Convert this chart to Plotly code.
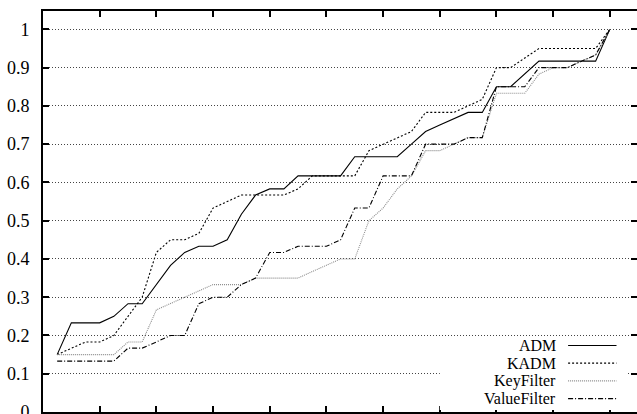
import plotly.graph_objects as go

# Step positions along the x axis (no tick labels are shown on this axis)
steps = [0.25, 0.5, 0.75, 1.0, 1.25, 1.5, 1.75, 2.0, 2.25, 2.5,
         2.75, 3.0, 3.25, 3.5, 3.75, 4.0, 4.25, 4.5, 4.75, 5.0,
         5.25, 5.5, 5.75, 6.0, 6.25, 6.5, 6.75, 7.0, 7.25, 7.5,
         7.75, 8.0, 8.25, 8.5, 8.75, 9.0, 9.25, 9.5, 9.75, 10.0]

adm = [0.15, 0.233, 0.233, 0.233, 0.25, 0.283, 0.283, 0.333, 0.383, 0.417,
       0.433, 0.433, 0.45, 0.517, 0.567, 0.583, 0.583, 0.617, 0.617, 0.617,
       0.617, 0.667, 0.667, 0.667, 0.667, 0.7, 0.733, 0.75, 0.767, 0.783,
       0.783, 0.85, 0.85, 0.883, 0.917, 0.917, 0.917, 0.917, 0.917, 1.0]

kadm = [0.15, 0.167, 0.183, 0.183, 0.2, 0.25, 0.3, 0.417, 0.45, 0.45,
        0.467, 0.533, 0.55, 0.567, 0.567, 0.567, 0.567, 0.583, 0.617, 0.617,
        0.617, 0.617, 0.683, 0.7, 0.717, 0.733, 0.783, 0.783, 0.783, 0.8,
        0.817, 0.9, 0.9, 0.925, 0.95, 0.95, 0.95, 0.95, 0.95, 1.0]

keyfilter = [0.15, 0.15, 0.15, 0.15, 0.15, 0.183, 0.183, 0.267, 0.283, 0.3,
             0.317, 0.333, 0.333, 0.333, 0.35, 0.35, 0.35, 0.35, 0.367, 0.383,
             0.4, 0.4, 0.5, 0.533, 0.583, 0.617, 0.683, 0.683, 0.7, 0.717,
             0.717, 0.833, 0.833, 0.833, 0.883, 0.9, 0.9, 0.917, 0.933, 1.0]

valuefilter = [0.133, 0.133, 0.133, 0.133, 0.133, 0.167, 0.167, 0.183, 0.2, 0.2,
               0.283, 0.3, 0.3, 0.333, 0.35, 0.417, 0.417, 0.433, 0.433, 0.433,
               0.45, 0.533, 0.533, 0.617, 0.617, 0.617, 0.7, 0.7, 0.7, 0.717,
               0.717, 0.85, 0.85, 0.85, 0.9, 0.9, 0.9, 0.917, 0.933, 1.0]

names = ["ADM", "KADM", "KeyFilter", "ValueFilter"]
series = [adm, kadm, keyfilter, valuefilter]
colors = ["#000000", "#000000", "#8c8c8c", "#000000"]
dashes = ["solid", "2px,2px", "1px,1px", "5px,2px,1px,2px"]

y_ticks = [0, 0.1, 0.2, 0.3, 0.4, 0.5, 0.6, 0.7, 0.8, 0.9, 1]
y_labels = ["0", "0.1", "0.2", "0.3", "0.4", "0.5", "0.6", "0.7", "0.8", "0.9", "1"]
x_ticks = [0, 1, 2, 3, 4, 5, 6, 7, 8, 9, 10]

FONT = "Liberation Serif"

fig = go.Figure()
for name, ys, col, dash in zip(names, series, colors, dashes):
    fig.add_trace(go.Scatter(
        x=steps, y=ys, mode="lines", name=name,
        line=dict(color=col, width=1.1, dash=dash),
        showlegend=False,
    ))

# Key in the lower right corner: names right-aligned, line samples to their right
shapes = [dict(type="rect", xref="paper", yref="paper",
               x0=0.668, x1=0.983, y0=0.005, y1=0.187,
               fillcolor="white", line=dict(width=0), layer="above")]
annotations = []
row_top, row_gap = 0.166, 0.0442
for i, (name, col, dash) in enumerate(zip(names, colors, dashes)):
    yc = row_top - i * row_gap
    annotations.append(dict(
        xref="paper", yref="paper", x=0.865, y=yc,
        xanchor="right", yanchor="middle", showarrow=False,
        text=name, font=dict(family=FONT, size=16, color="black"),
        borderpad=0,
    ))
    shapes.append(dict(
        type="line", xref="paper", yref="paper",
        x0=0.884, x1=0.9655, y0=yc, y1=yc,
        line=dict(color=col, width=1.1, dash=dash), layer="above",
    ))

fig.update_layout(
    width=637, height=414,
    margin=dict(l=43, r=0, t=11, b=2, autoexpand=False),
    paper_bgcolor="white", plot_bgcolor="white",
    font=dict(family=FONT, size=16, color="black"),
    shapes=shapes, annotations=annotations,
    showlegend=False,
)
fig.update_xaxes(
    range=[0, 10.48], tickvals=x_ticks, showticklabels=False,
    ticks="inside", ticklen=6, tickwidth=2, tickcolor="black",
    showline=True, linewidth=2, linecolor="black", mirror="allticks",
    showgrid=False, zeroline=False, automargin=False,
)
fig.update_yaxes(
    range=[0, 1.048], tickvals=y_ticks, ticktext=y_labels,
    ticks="inside", ticklen=6, tickwidth=2, tickcolor="black",
    showline=True, linewidth=2, linecolor="black", mirror="allticks",
    showgrid=True, gridcolor="#444444", gridwidth=1, griddash="1px,2px",
    zeroline=False, ticklabelstandoff=8, ticklabeloverflow="allow",
    automargin=False,
    tickfont=dict(family=FONT, size=18, color="black"),
)

fig.write_html("out.html")
